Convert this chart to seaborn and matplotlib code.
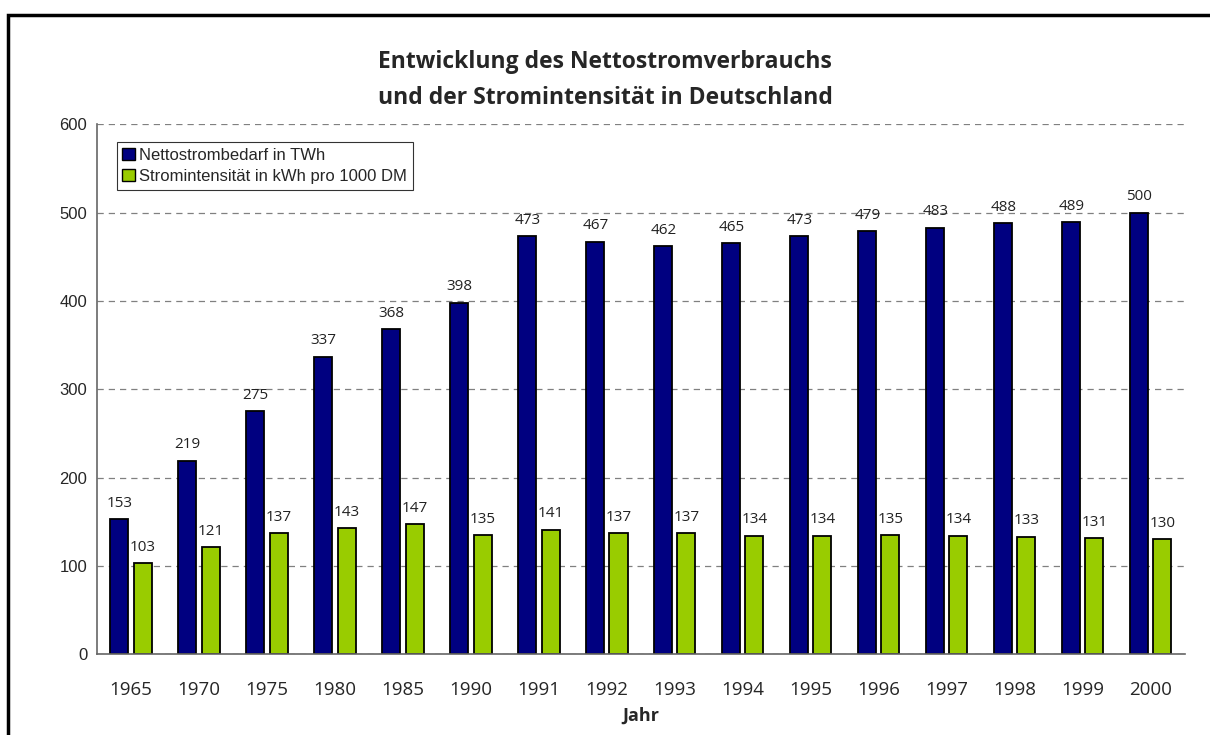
import seaborn as sns
import matplotlib.pyplot as plt
import matplotlib.patches as mpatches
import pandas as pd

# data
years = ["1965", "1970", "1975", "1980", "1985", "1990", "1991", "1992",
         "1993", "1994", "1995", "1996", "1997", "1998", "1999", "2000"]
nettostrom = [153, 219, 275, 337, 368, 398, 473, 467, 462, 465, 473, 479, 483, 488, 489, 500]
intensitaet = [103, 121, 137, 143, 147, 135, 141, 137, 137, 134, 134, 135, 134, 133, 131, 130]

series_names = ["Nettostrombedarf in TWh", "Stromintensität in kWh pro 1000 DM"]
colors = ["#000080", "#99CC00"]

df = pd.DataFrame({
    "Jahr": years * 2,
    "Wert": nettostrom + intensitaet,
    "Reihe": [series_names[0]] * len(years) + [series_names[1]] * len(years),
})

sns.set_style("white")
plt.rcParams["font.family"] = ["Open Sans", "DejaVu Sans"]

fig = plt.figure(figsize=(12.1, 7.35), dpi=100)
ax = fig.add_axes([0.0802, 0.110, 0.899, 0.721])

sns.barplot(data=df, x="Jahr", y="Wert", hue="Reihe", palette=colors, saturation=1,
            width=0.68, edgecolor="black", linewidth=1.3, ax=ax)

# narrow the bars a bit so there is a gap between the pair
for p in ax.patches:
    w = p.get_width()
    if w > 0:
        new_w = 0.265
        p.set_x(p.get_x() + (w - new_w) / 2)
        p.set_width(new_w)

for cont in ax.containers:
    ax.bar_label(cont, fmt="%d", padding=6, fontsize=11, color="#222222")

ax.set_ylim(0, 600)
ax.set_xlim(-0.5, len(years) - 0.5)
ax.set_yticks(range(0, 601, 100))
ax.yaxis.grid(True, linestyle=(0, (5, 4)), color="#808080", linewidth=0.9)
ax.set_axisbelow(True)
for s in ["top", "right"]:
    ax.spines[s].set_visible(False)
for s in ["left", "bottom"]:
    ax.spines[s].set_color("#666666")
    ax.spines[s].set_linewidth(1.2)

ax.tick_params(axis="y", length=8, width=1, color="#666666", labelsize=12, pad=3, direction="inout")
for lab in ax.get_yticklabels():
    lab.set_fontfamily("Liberation Sans")
ax.tick_params(axis="x", which="major", length=0, labelsize=13.5, pad=19)
ax.set_xticks([i + 0.5 for i in range(len(years) - 1)], minor=True)
ax.tick_params(axis="x", which="minor", length=6, width=1, color="#666666", direction="out")
ax.set_ylabel("")
ax.set_xlabel("Jahr", fontsize=13, fontweight="bold", labelpad=6)

fig.suptitle("Entwicklung des Nettostromverbrauchs\nund der Stromintensität in Deutschland",
             fontsize=16.5, fontweight="bold", y=0.932, linespacing=1.65)

handles = [mpatches.Patch(facecolor=c, edgecolor="black", linewidth=1) for c in colors]
leg = ax.legend(handles, series_names, loc="upper left", bbox_to_anchor=(0.018, 0.967),
                prop={"family": "Liberation Sans", "size": 12}, frameon=True,
                fancybox=False, handlelength=0.75, handleheight=0.75, handletextpad=0.25,
                borderpad=0.35, labelspacing=0.4, borderaxespad=0)
leg.get_frame().set_edgecolor("black")
leg.get_frame().set_linewidth(0.8)

# outer frame of the chart area
fig.patches.append(mpatches.Rectangle((8 / 1210, -0.05), 1.1, 1 - 15 / 735 + 0.05,
                                      transform=fig.transFigure, fill=False,
                                      edgecolor="black", linewidth=2.5))

plt.savefig("out.png", dpi=100)
